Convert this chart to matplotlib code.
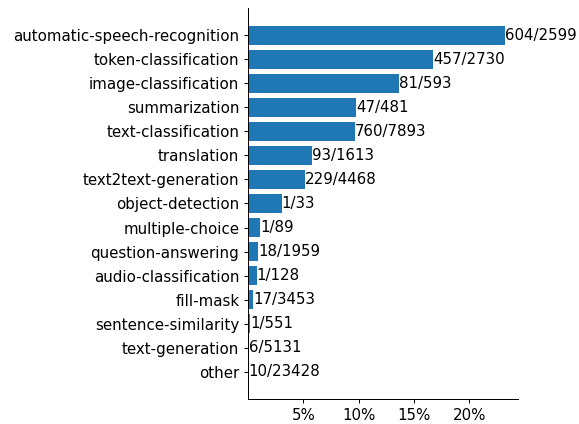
import matplotlib
matplotlib.use("Agg")
import matplotlib.pyplot as plt
from matplotlib.ticker import FuncFormatter

tasks = ["automatic-speech-recognition", "token-classification", "image-classification",
         "summarization", "text-classification", "translation", "text2text-generation",
         "object-detection", "multiple-choice", "question-answering", "audio-classification",
         "fill-mask", "sentence-similarity", "text-generation", "other"]
hits = [604, 457, 81, 47, 760, 93, 229, 1, 1, 18, 1, 17, 1, 6, 10]
totals = [2599, 2730, 593, 481, 7893, 1613, 4468, 33, 89, 1959, 128, 3453, 551, 5131, 23428]

ratios = [h / t for h, t in zip(hits, totals)]
labels = [f"{h}/{t}" for h, t in zip(hits, totals)]

plt.rcParams['font.size'] = 10.8
fig = plt.figure(figsize=(5.79, 4.24), dpi=100)
ax = fig.add_axes([248/579, 25/424, 270/579, 391/424])
y = list(range(len(tasks)))[::-1]
bars = ax.barh(y, ratios, color="#1f77b4")
ax.set_yticks(y)
ax.set_yticklabels(tasks)
for b, lab in zip(bars, labels):
    ax.text(b.get_width(), b.get_y() + b.get_height() / 2, lab, va="center", ha="left")
ax.set_xlim(left=0)
ax.set_xticks([0.05, 0.10, 0.15, 0.20])
ax.xaxis.set_major_formatter(FuncFormatter(lambda v, p: f"{v*100:.0f}%"))
ax.tick_params(length=3.15, pad=3.15, width=0.72)
for s in ax.spines.values():
    s.set_linewidth(0.72)
ax.spines['top'].set_visible(False)
ax.spines['right'].set_visible(False)
fig.savefig("out.png", dpi=100)
